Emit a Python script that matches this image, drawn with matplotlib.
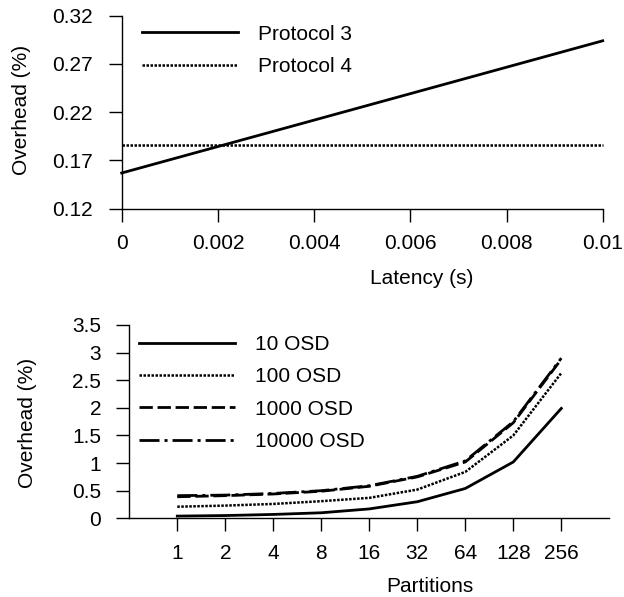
import matplotlib
matplotlib.use('Agg')
import matplotlib.pyplot as plt

plt.rcParams['font.family'] = ['Liberation Sans', 'DejaVu Sans']
plt.rcParams['font.size'] = 15

# --- data: top panel (overhead vs latency) ---
latency = [0.0, 0.01]
protocol3 = [0.157, 0.294]
protocol4 = [0.1857, 0.1857]
lat_ticks = [0, 0.002, 0.004, 0.006, 0.008, 0.01]
lat_labels = ['0', '0.002', '0.004', '0.006', '0.008', '0.01']
ovh_ticks = [0.12, 0.17, 0.22, 0.27, 0.32]

# --- data: bottom panel (overhead vs partitions) ---
partitions = ['1', '2', '4', '8', '16', '32', '64', '128', '256']
osd10 = [0.04, 0.05, 0.07, 0.10, 0.17, 0.30, 0.54, 1.02, 1.99]
osd100 = [0.21, 0.23, 0.26, 0.31, 0.37, 0.52, 0.84, 1.50, 2.63]
osd1000 = [0.39, 0.41, 0.44, 0.49, 0.58, 0.75, 1.02, 1.73, 2.88]
osd10000 = [0.41, 0.42, 0.45, 0.50, 0.59, 0.76, 1.04, 1.75, 2.90]
part_yticks = [0, 0.5, 1, 1.5, 2, 2.5, 3, 3.5]
part_ylabels = ['0', '0.5', '1', '1.5', '2', '2.5', '3', '3.5']

W, H = 624, 597
fig = plt.figure(figsize=(W / 100, H / 100), dpi=100)


def px_axes(left, top, right, bottom):
    return fig.add_axes([left / W, 1 - bottom / H, (right - left) / W, (bottom - top) / H])


def r_style(ax):
    for s in ['top', 'right']:
        ax.spines[s].set_visible(False)
    for s in ['left', 'bottom']:
        ax.spines[s].set_linewidth(1.0)


# ====== top panel ======
ax1 = px_axes(121.7, 15.7, 602.7, 208.7)
r_style(ax1)
ax1.plot(latency, protocol3, color='black', lw=2.0, ls='-', label='Protocol 3', clip_on=False)
ax1.plot(latency, protocol4, color='black', lw=1.8, ls=(0, (1, 0.6)), label='Protocol 4', clip_on=False)
ax1.set_xlim(0, 0.01)
ax1.set_ylim(0.12, 0.32)
ax1.set_xticks(lat_ticks)
ax1.set_xticklabels(lat_labels)
ax1.set_yticks(ovh_ticks)
ax1.set_yticklabels(['%.2f' % v for v in ovh_ticks])
ax1.tick_params(axis='x', length=9.4, width=1.0, pad=8.8)
ax1.tick_params(axis='y', length=9.4, width=1.0, pad=11.5)
ax1.set_xlabel('Latency (s)', va='center')
ax1.xaxis.set_label_coords((422 - 121.7) / 481, (208.7 - 278) / 193)
ax1.set_ylabel('Overhead (%)', va='center')
ax1.yaxis.set_label_coords((21.7 - 121.7) / 481, (208.7 - 110) / 193)
ax1.legend(loc='upper left', bbox_to_anchor=((141.7 - 121.7) / 481, 0.954),
           frameon=False, borderpad=0, borderaxespad=0,
           handlelength=4.6, handletextpad=0.96, labelspacing=0.64)

# ====== bottom panel ======
xpos = list(range(len(partitions)))
ax2 = px_axes(129.3, 325, 609.3, 518.3)
r_style(ax2)
ax2.plot(xpos, osd10, color='black', lw=2.0, ls='-', label='10 OSD', clip_on=False)
ax2.plot(xpos, osd100, color='black', lw=1.8, ls=(0, (1, 0.6)), label='100 OSD', clip_on=False)
ax2.plot(xpos, osd1000, color='black', lw=2.0, ls=(0, (4.8, 1.7)), label='1000 OSD', clip_on=False)
ax2.plot(xpos, osd10000, color='black', lw=2.0, ls=(0, (7.2, 1.8, 1.1, 1.8)), label='10000 OSD', clip_on=False)
ax2.set_xlim(-1, 9)
ax2.set_ylim(0, 3.5)
ax2.set_xticks(xpos)
ax2.set_xticklabels(partitions)
ax2.set_yticks(part_yticks)
ax2.set_yticklabels(part_ylabels)
ax2.spines['left'].set_bounds(0, 3.5)
ax2.tick_params(axis='x', length=9.4, width=1.0, pad=8.8)
ax2.tick_params(axis='y', length=9.4, width=1.0, pad=10.8)
ax2.set_xlabel('Partitions', va='center')
ax2.xaxis.set_label_coords((430 - 129.3) / 480, (518.3 - 586.5) / 193.3)
ax2.set_ylabel('Overhead (%)', va='center')
ax2.yaxis.set_label_coords((27.5 - 129.3) / 480, (518.3 - 422.6) / 193.3)
ax2.legend(loc='upper left', bbox_to_anchor=((139.3 - 129.3) / 480, 0.949),
           frameon=False, borderpad=0, borderaxespad=0,
           handlelength=4.6, handletextpad=0.96, labelspacing=0.645)

fig.savefig('out.png', dpi=100)
